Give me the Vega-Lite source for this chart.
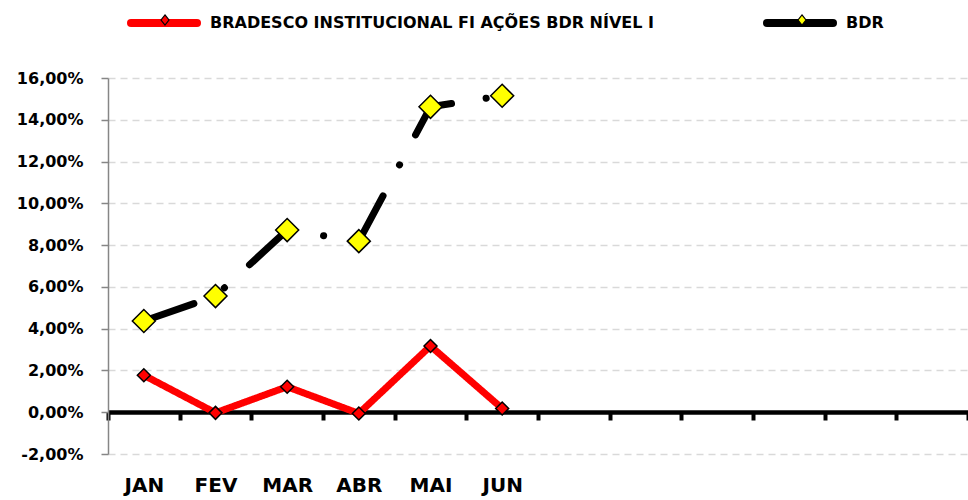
{
  "$schema": "https://vega.github.io/schema/vega-lite/v6.json",
  "width": 860,
  "height": 376,
  "autosize": {"type": "none"},
  "padding": {"left": 108, "top": 78, "right": 0, "bottom": 46},
  "background": "white",
  "config": {
    "locale": {"number": {"decimal": ",", "thousands": ".", "grouping": [3], "currency": ["R$ ", ""], "minus": "-", "percent": "%"}},
    "view": {"stroke": null},
    "font": "DejaVu Sans"
  },
  "data": {
    "values": [
      {"month": "JAN", "series": "BRADESCO INSTITUCIONAL FI AÇÕES BDR NÍVEL I", "value": 0.0177},
      {"month": "FEV", "series": "BRADESCO INSTITUCIONAL FI AÇÕES BDR NÍVEL I", "value": -0.0003},
      {"month": "MAR", "series": "BRADESCO INSTITUCIONAL FI AÇÕES BDR NÍVEL I", "value": 0.0122},
      {"month": "ABR", "series": "BRADESCO INSTITUCIONAL FI AÇÕES BDR NÍVEL I", "value": -0.0006},
      {"month": "MAI", "series": "BRADESCO INSTITUCIONAL FI AÇÕES BDR NÍVEL I", "value": 0.0317},
      {"month": "JUN", "series": "BRADESCO INSTITUCIONAL FI AÇÕES BDR NÍVEL I", "value": 0.0018},
      {"month": "JAN", "series": "BDR", "value": 0.0437},
      {"month": "FEV", "series": "BDR", "value": 0.0556},
      {"month": "MAR", "series": "BDR", "value": 0.0872},
      {"month": "ABR", "series": "BDR", "value": 0.0819},
      {"month": "MAI", "series": "BDR", "value": 0.1462},
      {"month": "JUN", "series": "BDR", "value": 0.1515}
    ]
  },
  "encoding": {
    "x": {
      "field": "month",
      "type": "ordinal",
      "sort": null,
      "scale": {"type": "band", "domain": ["JAN", "FEV", "MAR", "ABR", "MAI", "JUN", "JUL", "AGO", "SET", "OUT", "NOV", "DEZ"], "paddingInner": 0, "paddingOuter": 0},
      "axis": {
        "title": null,
        "labelAngle": 0,
        "grid": false,
        "offset": -42,
        "domainColor": "#000000",
        "domainWidth": 4.5,
        "tickColor": "#000000",
        "tickWidth": 4,
        "tickSize": 8,
        "tickBand": "extent",
        "labelPadding": 55,
        "labelFont": "DejaVu Sans",
        "labelFontSize": 20,
        "labelFontWeight": "bold",
        "labelColor": "#000000",
        "labelExpr": "indexof(['JUL','AGO','SET','OUT','NOV','DEZ'], datum.value) >= 0 ? '' : datum.value"
      }
    },
    "y": {
      "field": "value",
      "type": "quantitative",
      "scale": {"domain": [-0.02, 0.16], "nice": false, "zero": false},
      "axis": {
        "title": null,
        "values": [-0.02, 0, 0.02, 0.04, 0.06, 0.08, 0.1, 0.12, 0.14, 0.16],
        "format": ".2%",
        "grid": true,
        "gridColor": "#D9D9D9",
        "gridWidth": 1.5,
        "gridDash": [7, 5],
        "domainColor": "#868686",
        "domainWidth": 1.5,
        "tickColor": "#868686",
        "tickSize": 7,
        "tickWidth": 1.5,
        "labelPadding": 18,
        "labelFont": "DejaVu Sans",
        "labelFontSize": 16,
        "labelFontWeight": "bold",
        "labelColor": "#000000"
      }
    }
  },
  "layer": [
    {
      "mark": {"type": "line", "strokeWidth": 7, "strokeCap": "round", "strokeJoin": "round"},
      "encoding": {
        "stroke": {
          "field": "series",
          "type": "nominal",
          "scale": {"domain": ["BRADESCO INSTITUCIONAL FI AÇÕES BDR NÍVEL I", "BDR"], "range": ["#FF0000", "#000000"]},
          "legend": {
            "orient": "none",
            "legendX": 19,
            "legendY": -92,
            "direction": "horizontal",
            "title": null,
            "symbolType": "stroke",
            "symbolSize": 4356,
            "symbolStrokeWidth": 8,
            "labelFont": "DejaVu Sans",
            "labelFontWeight": "bold",
            "labelFontSize": 16,
            "labelColor": "#000000",
            "labelLimit": 0,
            "labelOffset": 9,
            "columnPadding": 97,
            "padding": 0,
            "zindex": 1,
            "encode": {"symbols": {"update": {"strokeCap": {"value": "round"}}}}
          }
        },
        "strokeDash": {
          "condition": {"test": "datum.series === 'BDR'", "value": [53, 35, 0.1, 34]},
          "value": [1, 0]
        }
      }
    },
    {
      "mark": {"type": "point", "filled": true, "shape": "diamond", "stroke": "#000000", "strokeWidth": 1.5, "opacity": 1},
      "encoding": {
        "fill": {
          "field": "series",
          "type": "nominal",
          "scale": {"domain": ["BDR", "BRADESCO INSTITUCIONAL FI AÇÕES BDR NÍVEL I"], "range": ["#FFFF00", "#FF0000"]},
          "legend": {
            "orient": "none",
            "legendX": 23,
            "legendY": -92,
            "direction": "horizontal",
            "title": null,
            "values": ["BRADESCO INSTITUCIONAL FI AÇÕES BDR NÍVEL I", "BDR"],
            "symbolType": "M0,-0.152L0.121,0L0,0.152L-0.121,0Z",
            "symbolSize": 4356,
            "symbolStrokeColor": "#000000",
            "symbolStrokeWidth": 1.2,
            "symbolOpacity": 1,
            "labelExpr": "''",
            "labelFontSize": 16,
            "labelOffset": 0,
            "columnPadding": 569,
            "padding": 0,
            "zindex": 2
          }
        },
        "size": {
          "condition": {"test": "datum.series === 'BDR'", "value": 529},
          "value": 169
        }
      }
    }
  ]
}
